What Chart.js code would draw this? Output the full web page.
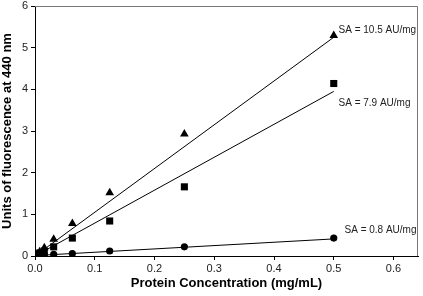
<!DOCTYPE html>
<html lang="en">
<head>
    <meta charset="UTF-8">
    <title>Protein Concentration vs Fluorescence</title>
    <style>
        body { margin: 0; background: #fff; }
        #wrap { width: 423px; height: 296px; }
    </style>
</head>
<body>
    <div id="wrap">
        <canvas id="myChart" width="423" height="296"></canvas>
    </div>

    <script src="https://cdn.jsdelivr.net/npm/chart.js"></script>

    <script>
        // serial dilutions of protein (mg/mL)
        const concentrations = [0, 0.0039, 0.0078, 0.0156, 0.03125, 0.0625, 0.125, 0.25, 0.5];
        const triangleValues = [0, 0.05, 0.1, 0.2, 0.4, 0.78, 1.52, 2.93, 5.29];
        const squareValues = [0, 0.03, 0.07, 0.12, 0.22, 0.43, 0.84, 1.66, 4.14];
        const circleValues = [0, 0.005, 0.01, 0.02, 0.04, 0.06, 0.12, 0.22, 0.43];

        // fitted lines (start and end of each)
        const fitX = [0, 0.5];
        const triangleFit = [0, 5.25];
        const squareFit = [0, 3.95];
        const circleFit = [0.01, 0.41];

        const fitLabels = ['SA = 10.5 AU/mg', 'SA = 7.9 AU/mg', 'SA = 0.8 AU/mg'];
        const labelX = [0.508, 0.508, 0.518];
        const labelY = [5.42, 3.66, 0.62];

        const xTicks = [0, 0.1, 0.2, 0.3, 0.4, 0.5, 0.6];

        const toPoints = (xs, ys) => xs.map((x, i) => ({ x: x, y: ys[i] }));

        function pointSet(values, style, radius) {
            return {
                data: toPoints(concentrations, values),
                pointStyle: style,
                pointRadius: radius,
                backgroundColor: '#000',
                borderColor: '#000',
                borderWidth: 0,
                showLine: false
            };
        }

        function lineSet(values) {
            return {
                data: toPoints(fitX, values),
                showLine: true,
                pointRadius: 0,
                borderColor: '#000',
                borderWidth: 1,
                fill: false
            };
        }

        // top/right frame and the SA annotations
        const extras = {
            id: 'extras',
            afterDraw(chart) {
                const c = chart.ctx;
                const a = chart.chartArea;
                const xs = chart.scales.x;
                const ys = chart.scales.y;
                c.save();
                c.strokeStyle = '#777';
                c.lineWidth = 1;
                c.beginPath();
                c.moveTo(a.left, a.top + 0.5);
                c.lineTo(a.right - 0.5, a.top + 0.5);
                c.lineTo(a.right - 0.5, a.bottom);
                c.stroke();

                c.fillStyle = '#222';
                c.font = '10px "Liberation Sans", Arial, sans-serif';
                c.textBaseline = 'middle';
                c.textAlign = 'left';
                fitLabels.forEach((t, i) => {
                    c.fillText(t, xs.getPixelForValue(labelX[i]), ys.getPixelForValue(labelY[i]));
                });
                c.restore();
            }
        };

        const ctx = document.getElementById('myChart');

        new Chart(ctx, {
            type: 'scatter',
            data: {
                datasets: [
                    pointSet(triangleValues, 'triangle', 5),
                    pointSet(squareValues, 'rect', 5),
                    pointSet(circleValues, 'circle', 3.6),
                    lineSet(triangleFit),
                    lineSet(squareFit),
                    lineSet(circleFit)
                ]
            },
            options: {
                responsive: false,
                animation: false,
                layout: { padding: { top: 6, right: 2, left: 0, bottom: 0 } },
                plugins: {
                    legend: { display: false },
                    tooltip: { enabled: false }
                },
                scales: {
                    x: {
                        type: 'linear',
                        min: 0,
                        max: 0.641,
                        afterBuildTicks: (s) => { s.ticks = xTicks.map(v => ({ value: v })); },
                        afterFit: (s) => { s.height = 40; s.paddingLeft = 0; s.paddingRight = 0; },
                        grid: { drawOnChartArea: false, drawTicks: true, tickLength: 4, color: '#000' },
                        border: { color: '#000', width: 1 },
                        ticks: {
                            color: '#222',
                            padding: 2,
                            maxRotation: 0,
                            font: { family: '"Liberation Sans", Arial, sans-serif', size: 11 },
                            callback: (v) => Number(v).toFixed(1)
                        },
                        title: {
                            display: true,
                            text: 'Protein Concentration (mg/mL)',
                            color: '#000',
                            padding: { top: 6, bottom: 5 },
                            font: { family: '"Liberation Sans", Arial, sans-serif', size: 13, weight: 'bold' }
                        }
                    },
                    y: {
                        min: 0,
                        max: 6,
                        afterFit: (s) => { s.width = 35; s.paddingTop = 0; s.paddingBottom = 0; },
                        grid: { drawOnChartArea: false, drawTicks: true, tickLength: 4, color: '#000' },
                        border: { color: '#000', width: 1 },
                        ticks: {
                            stepSize: 1,
                            color: '#222',
                            padding: 3,
                            font: { family: '"Liberation Sans", Arial, sans-serif', size: 11 }
                        },
                        title: {
                            display: true,
                            text: 'Units of fluorescence at 440 nm',
                            color: '#000',
                            padding: { top: 0, bottom: 2 },
                            font: { family: '"Liberation Sans", Arial, sans-serif', size: 13, weight: 'bold' }
                        }
                    }
                }
            },
            plugins: [extras]
        });
    </script>
</body>
</html>
